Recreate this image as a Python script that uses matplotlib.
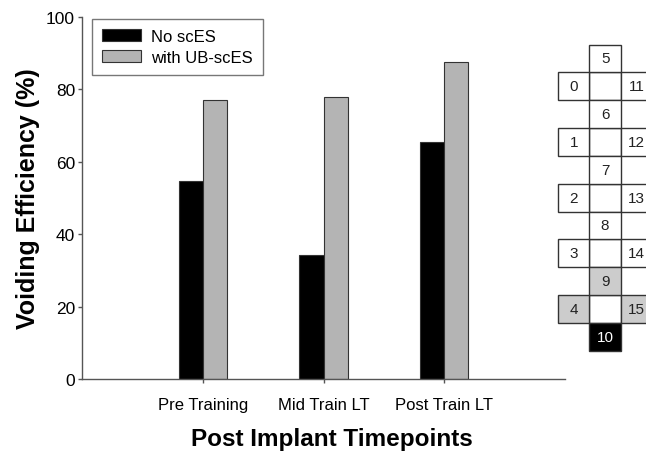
import matplotlib.pyplot as plt
from matplotlib.patches import Rectangle

plt.rcParams['font.family'] = ['Liberation Sans', 'DejaVu Sans']

# bar data
timepoints = ['Pre Training', 'Mid Train LT', 'Post Train LT']
no_sces = [54.6, 34.3, 65.5]
with_ub_sces = [77.2, 78.0, 87.5]

# electrode map (col 0=left, 1=middle, 2=right; row counted from top)
electrode_ids = [5, 6, 7, 8, 9, 10, 0, 1, 2, 3, 4, 11, 12, 13, 14, 15]
electrode_cols = [1, 1, 1, 1, 1, 1, 0, 0, 0, 0, 0, 2, 2, 2, 2, 2]
electrode_rows = [0, 2, 4, 6, 8, 10, 1, 3, 5, 7, 9, 1, 3, 5, 7, 9]
electrode_state = ['off', 'off', 'off', 'off', 'anode', 'cathode',
                   'off', 'off', 'off', 'off', 'anode',
                   'off', 'off', 'off', 'off', 'anode']

W, H = 646, 452
fig = plt.figure(figsize=(W / 100, H / 100), dpi=100)
ax = fig.add_axes([82 / W, 1 - 380 / H, 483 / W, 362 / H])

x = [1, 2, 3]
bw = 0.2
edge = '#333333'
ax.bar([i - bw for i in x], no_sces, bw, align='edge', color='black',
       edgecolor=edge, linewidth=0.8, label='No scES')
ax.bar(x, with_ub_sces, bw, align='edge', color='#b4b4b4',
       edgecolor=edge, linewidth=0.8, label='with UB-scES')

ax.set_xlim(0, 4)
ax.set_ylim(0, 100)
ax.set_yticks(range(0, 101, 20))
ax.set_xticks(x)
ax.set_xticklabels(timepoints)
for s in ['top', 'right']:
    ax.spines[s].set_visible(False)
for s in ['left', 'bottom']:
    ax.spines[s].set_color('#555555')
    ax.spines[s].set_linewidth(1.0)
ax.tick_params(axis='both', direction='out', length=3, width=1.0,
               color='#555555', labelsize=12, pad=2)
ax.tick_params(axis='y', labelsize=12.5)
ax.tick_params(axis='x', pad=10)

ax.set_xlabel('Post Implant Timepoints', fontsize=17.5, fontweight='bold')
ax.xaxis.set_label_coords((331.7 - 82) / 483, (380 - 428) / 362)
ax.set_ylabel('Voiding Efficiency (%)', fontsize=18, fontweight='bold')
ax.yaxis.set_label_coords((40 - 82) / 483, 0.5)

leg = ax.legend(loc='upper left', bbox_to_anchor=((92 - 82) / 483, (380 - 20) / 362),
                borderaxespad=0, fontsize=12, fancybox=False, frameon=True,
                handlelength=2.35, handleheight=0.7, labelspacing=0.35,
                borderpad=0.6, handletextpad=0.6)
leg.get_frame().set_edgecolor('#555555')
leg.get_frame().set_linewidth(1.0)

# electrode grid
gx = fig.add_axes([558 / W, 1 - 351.7 / H, 94.2 / W, 306.2 / H])
gx.set_xlim(0, 3)
gx.set_ylim(11, 0)
gx.axis('off')
fills = {'off': 'white', 'anode': '#cccccc', 'cathode': 'black'}
txtc = {'off': '#222222', 'anode': '#222222', 'cathode': 'white'}
# blank middle cells between labelled ones
for r in range(1, 11, 2):
    gx.add_patch(Rectangle((1, r), 1, 1, facecolor='white', edgecolor='#333333',
                           linewidth=1.0, clip_on=False))
for eid, c, r, st in zip(electrode_ids, electrode_cols, electrode_rows, electrode_state):
    gx.add_patch(Rectangle((c, r), 1, 1, facecolor=fills[st], edgecolor='#333333',
                           linewidth=1.0, clip_on=False))
    gx.text(c + 0.5, r + 0.5, str(eid), ha='center', va='center',
            fontsize=11, color=txtc[st])

fig.savefig('out.png', dpi=100)
